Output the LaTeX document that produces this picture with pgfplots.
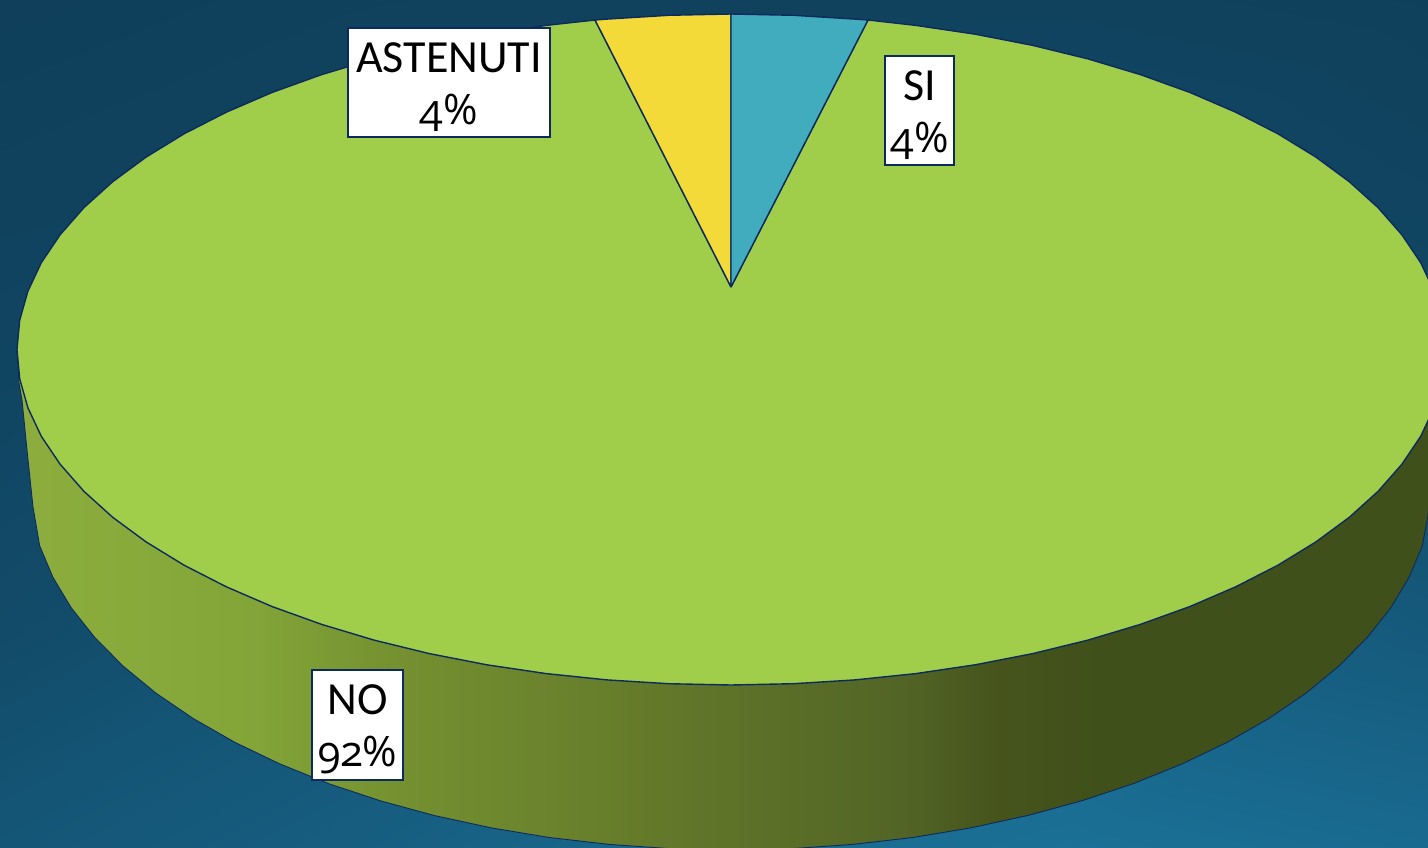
\documentclass[border=0pt]{standalone}
\usepackage{pgfplots}
\pgfplotsset{compat=1.18}
\usepackage{fontspec}
\setmainfont{Carlito}
\newfontfamily\oldnum[Numbers=OldStyle]{Open Sans}
\definecolor{edge}{HTML}{0D2A5E}
\definecolor{pgreen}{HTML}{A1CE4A}
\definecolor{pyellow}{HTML}{F3DA38}
\definecolor{pteal}{HTML}{41ACBD}
\pgfdeclarehorizontalshading{wall}{100bp}{
 rgb(0bp)=(.553,.682,.243);
 rgb(25bp)=(.553,.682,.243);
 rgb(33.2bp)=(.514,.647,.220);
 rgb(38.4bp)=(.455,.565,.188);
 rgb(41.9bp)=(.431,.533,.180);
 rgb(50bp)=(.369,.447,.157);
 rgb(55.9bp)=(.322,.396,.149);
 rgb(59.4bp)=(.275,.329,.110);
 rgb(62.9bp)=(.251,.314,.102);
 rgb(75bp)=(.251,.314,.102);
 rgb(100bp)=(.251,.314,.102)}
\begin{document}
\begin{tikzpicture}
\begin{axis}[
  scale only axis, width=1428pt, height=848pt,
  xmin=0, xmax=1428, ymin=0, ymax=848, y dir=reverse,
  hide axis, clip=true,
  colormap={bg}{rgb255(0)=(15,63,90); rgb255(1)=(27,114,153)},
  point meta min=63, point meta max=114]
% background
\addplot[surf, shader=interp, mesh/cols=5, point meta=explicit] table[meta=m] {
x y m
0 0 63
357 0 65
714 0 66
1071 0 66
1428 0 64
0 212 66
357 212 68
714 212 72
1071 212 72
1428 212 68
0 424 70
357 424 76
714 424 85
1071 424 85
1428 424 76
0 636 75
357 636 85
714 636 95
1071 636 100
1428 636 90
0 848 86
357 848 94
714 848 106
1071 848 112
1428 848 106
};
% side wall
\addplot[draw=edge, line width=0.9pt, shading=wall, shading angle=0] coordinates {
(19,383)(22,400)(27,450)(33,507)(39.7,545.9)(52.9,577.2)(71.3,607.9)(94.8,637.5)(123,666)(155.9,693.1)(193.2,718.5)(234.6,742.2)(279.8,763.9)(328.3,783.5)(380,800.7)(434.3,815.5)(490.9,827.8)(549.3,837.5)(609.1,844.4)(669.8,848.6)(731,850)
(792.2,848.6)(852.9,844.4)(912.7,837.5)(971.1,827.8)(1027.7,815.5)(1082,800.7)(1133.7,783.5)(1182.2,763.9)(1227.4,742.2)(1268.8,718.5)(1306.1,693.1)(1339,666)(1367.2,637.5)(1390.7,607.9)(1409.1,577.2)(1422.3,545.9)(1428,515)(1431,480)(1436,420)(1445,349.5)(17,349.5)(19,383)};
% NO 92
\addplot[draw=edge, line width=1.4pt, fill=pgreen, line join=round] coordinates {
(731,287)(868,20)(915.8,25.4)(975.2,34.2)(1032.7,45.4)(1088,58.9)(1140.6,74.7)(1190,92.5)(1235.9,112.3)(1277.9,133.8)(1315.9,157.1)(1349.3,181.7)(1378.1,207.7)(1401.9,234.8)(1420.7,262.7)(1434.1,291.2)(1442.3,320.2)(1445,349.5)
(1442.3,378.8)(1434.1,407.8)(1420.7,436.3)(1401.9,464.2)(1378.1,491.3)(1349.3,517.3)(1315.9,541.9)(1277.9,565.2)(1235.9,586.7)(1190,606.5)(1140.6,624.3)(1088,640.1)(1032.7,653.6)(975.2,664.8)(915.8,673.6)(855,679.9)(793.3,683.7)(731,685)
(668.7,683.7)(607,679.9)(546.2,673.6)(486.8,664.8)(429.3,653.6)(374,640.1)(321.4,624.3)(272,606.5)(226.1,586.7)(184.1,565.2)(146.1,541.9)(112.7,517.3)(83.9,491.3)(60.1,464.2)(41.3,436.3)(27.9,407.8)(19.7,378.8)(17,349.5)
(19.7,320.2)(27.9,291.2)(41.3,262.7)(60.1,234.8)(83.9,207.7)(112.7,181.7)(146.1,157.1)(184.1,133.8)(226.1,112.3)(272,92.5)(321.4,74.7)(374,58.9)(429.3,45.4)(486.8,34.2)(546.2,25.4)(595,20)(731,287)};
% ASTENUTI 4
\addplot[draw=edge, line width=1.4pt, fill=pyellow, line join=round] coordinates {(731,287)(595,20)(607,19.1)(668.7,15.3)(731,14)(731,287)};
% SI 4
\addplot[draw=edge, line width=1.4pt, fill=pteal, line join=round] coordinates {(731,287)(731,14)(793.3,15.3)(855,19.1)(868,20)(731,287)};
% labels
\tikzset{labbox/.style={draw=edge, line width=1.2pt, fill=white, inner sep=0pt},
  labtxt/.style={inner sep=0pt, align=center, text=black, font=\fontsize{46}{52}\selectfont}}
\node[labbox, minimum width=202pt, minimum height=109pt] at (axis cs:449,82.5) {};
\node[labtxt] at (axis cs:449,87.5) {ASTENUTI\\{\oldnum\fontsize{42}{52}\selectfont 4\%}};
\node[labbox, minimum width=69pt, minimum height=109pt] at (axis cs:919.5,110.5) {};
\node[labtxt] at (axis cs:919.5,115.5) {SI\\{\oldnum\fontsize{42}{52}\selectfont 4\%}};
\node[labbox, minimum width=91pt, minimum height=110pt] at (axis cs:357.5,725) {};
\node[labtxt] at (axis cs:357.5,729.5) {NO\\{\oldnum\fontsize{42}{52}\selectfont 92\%}};
\end{axis}
\end{tikzpicture}
\end{document}
